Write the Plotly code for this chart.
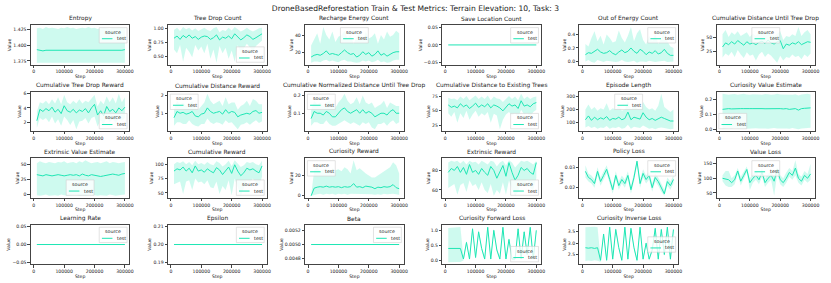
import plotly.graph_objects as go

# ---------------- data ----------------
STEPS = [10000, 20000, 30000, 40000, 50000, 60000, 70000, 80000, 90000, 100000,
         110000, 120000, 130000, 140000, 150000, 160000, 170000, 180000, 190000, 200000,
         210000, 220000, 230000, 240000, 250000, 260000, 270000, 280000, 290000, 300000]
X_TICK_LABELS = ["0", "100000", "200000", "300000"]

TITLES = ["Entropy", "Tree Drop Count", "Recharge Energy Count", "Save Location Count",
          "Out of Energy Count", "Cumulative Distance Until Tree Drop",
          "Cumulative Tree Drop Reward", "Cumulative Distance Reward",
          "Cumulative Normalized Distance Until Tree Drop", "Cumulative Distance to Existing Trees",
          "Episode Length", "Curiosity Value Estimate",
          "Extrinsic Value Estimate", "Cumulative Reward", "Curiosity Reward", "Extrinsic Reward",
          "Policy Loss", "Value Loss",
          "Learning Rate", "Epsilon", "Beta", "Curiosity Forward Loss", "Curiosity Inverse Loss"]

entropy_mean = [1.393, 1.392, 1.391, 1.392, 1.392, 1.391, 1.392, 1.392, 1.392, 1.391,
                1.392, 1.392, 1.391, 1.392, 1.392, 1.392, 1.391, 1.392, 1.392, 1.392,
                1.391, 1.392, 1.392, 1.391, 1.392, 1.392, 1.391, 1.392, 1.392, 1.393]
entropy_hi = [1.427, 1.428, 1.426, 1.429, 1.427, 1.428, 1.427, 1.426, 1.428, 1.427,
              1.429, 1.427, 1.428, 1.426, 1.427, 1.428, 1.427, 1.429, 1.427, 1.428,
              1.426, 1.427, 1.428, 1.427, 1.426, 1.428, 1.427, 1.428, 1.427, 1.428]
entropy_lo = [1.372, 1.372, 1.373, 1.372, 1.372, 1.372, 1.373, 1.372, 1.372, 1.372,
              1.372, 1.373, 1.372, 1.372, 1.372, 1.372, 1.372, 1.373, 1.372, 1.372,
              1.372, 1.372, 1.372, 1.373, 1.372, 1.372, 1.372, 1.372, 1.373, 1.372]

tree_mean = [0.82, 0.86, 0.80, 0.87, 0.83, 0.88, 0.82, 0.85, 0.80, 0.84,
             0.86, 0.85, 0.80, 0.83, 0.88, 0.79, 0.84, 0.82, 0.86, 0.81,
             0.90, 0.85, 0.79, 0.83, 0.88, 0.85, 0.80, 0.83, 0.87, 0.90]
tree_hi = [0.97, 1.01, 0.95, 1.02, 0.98, 1.01, 0.96, 1.00, 0.95, 0.98,
           1.01, 0.97, 0.95, 1.00, 1.02, 0.93, 0.97, 0.95, 1.01, 0.96,
           1.02, 0.98, 0.94, 0.97, 1.01, 0.97, 0.94, 0.97, 1.00, 1.01]
tree_lo = [0.62, 0.55, 0.70, 0.40, 0.65, 0.58, 0.48, 0.70, 0.60, 0.67,
           0.55, 0.72, 0.45, 0.62, 0.38, 0.68, 0.55, 0.65, 0.45, 0.60,
           0.40, 0.70, 0.55, 0.63, 0.72, 0.66, 0.58, 0.68, 0.73, 0.78]

recharge_mean = [15, 17, 18, 17, 19, 22, 18, 19, 18, 17,
                 20, 23, 20, 18, 19, 15, 17, 21, 18, 20,
                 16, 18, 22, 17, 19, 16, 18, 20, 21, 21]
recharge_hi = [28, 35, 42, 30, 49, 40, 35, 44, 32, 38,
               40, 45, 36, 40, 30, 38, 42, 34, 44, 36,
               38, 42, 30, 40, 35, 44, 38, 40, 45, 42]
recharge_lo = [8.5, 10, 10, 9, 11, 12, 10, 11, 10, 9,
               11, 12, 10, 10, 9, 8.5, 9, 11, 10, 11,
               9, 10, 12, 9, 10, 8.5, 9, 11, 12, 12]

save_mean = [0, 0, 0, 0, 0, 0, 0, 0, 0, 0,
             0, 0, 0, 0, 0, 0, 0, 0, 0, 0,
             0, 0, 0, 0, 0, 0, 0, 0, 0, 0]

ooe_mean = [0.10, 0.13, 0.12, 0.15, 0.18, 0.14, 0.12, 0.13, 0.16, 0.12,
            0.10, 0.14, 0.17, 0.13, 0.15, 0.20, 0.15, 0.12, 0.18, 0.15,
            0.10, 0.14, 0.12, 0.16, 0.11, 0.13, 0.18, 0.12, 0.09, 0.09]
ooe_hi = [0.26, 0.22, 0.35, 0.45, 0.30, 0.38, 0.25, 0.40, 0.35, 0.28,
          0.30, 0.46, 0.35, 0.28, 0.38, 0.51, 0.30, 0.42, 0.48, 0.32,
          0.25, 0.38, 0.30, 0.42, 0.26, 0.34, 0.45, 0.30, 0.22, 0.20]
ooe_lo = [0.00, 0.02, -0.01, -0.02, 0.02, 0.00, -0.01, 0.01, 0.00, 0.00,
          -0.01, 0.00, 0.02, 0.00, -0.01, 0.00, 0.01, -0.02, 0.00, 0.00,
          -0.01, 0.01, 0.00, -0.01, 0.00, 0.00, 0.01, -0.01, 0.00, 0.00]

cdu_mean = [33, 40, 37, 42, 38, 44, 40, 36, 42, 38,
            40, 37, 41, 43, 39, 45, 40, 38, 42, 44,
            30, 38, 36, 40, 38, 42, 37, 40, 42, 41]
cdu_hi = [55, 62, 50, 58, 54, 60, 52, 55, 58, 50,
          56, 52, 58, 60, 55, 58, 54, 52, 56, 60,
          45, 52, 50, 55, 52, 67, 52, 58, 62, 55]
cdu_lo = [15, 22, 18, 25, 16, 28, 20, 14, 24, 18,
          20, 10, 20, 25, 16, 22, 18, 12, 6, 18,
          10, 16, 14, 20, 16, 18, 12, 20, 16, 22]

ctdr_mean = [2.2, 3.8, 3.5, 3.9, 3.6, 4.1, 3.4, 3.8, 3.2, 4.3,
             3.6, 3.4, 3.8, 3.3, 3.7, 3.5, 3.9, 3.3, 4.0, 4.5,
             3.0, 3.6, 2.9, 4.2, 3.5, 3.8, 3.3, 4.0, 3.6, 4.1]
ctdr_hi = [3.5, 4.8, 4.6, 5.0, 4.5, 5.2, 4.6, 5.5, 4.5, 5.8,
           4.8, 4.5, 5.0, 4.6, 5.2, 4.6, 5.0, 4.8, 5.3, 5.8,
           4.2, 5.0, 4.5, 5.6, 4.8, 5.5, 4.6, 6.0, 4.8, 5.5]
ctdr_lo = [1.2, 2.6, 2.3, 2.6, 2.0, 2.8, 1.8, 2.4, 1.5, 2.8,
           2.3, 1.6, 2.3, 1.0, 2.1, 2.2, 2.6, 1.8, 2.6, 2.8,
           1.4, 2.3, 1.6, 2.8, 2.0, 2.4, 1.8, 2.6, 2.2, 2.6]

cdr_mean = [0.75, 1.10, 1.00, 1.05, 0.95, 1.00, 1.10, 0.85, 0.80, 0.95,
            1.00, 1.30, 1.10, 1.00, 1.05, 1.10, 0.95, 1.20, 1.00, 1.10,
            1.05, 0.80, 0.90, 0.95, 1.00, 0.95, 1.10, 1.15, 1.00, 1.05]
cdr_hi = [1.20, 1.70, 1.50, 1.60, 1.40, 1.50, 1.70, 1.30, 1.20, 1.40,
          1.60, 2.10, 1.70, 1.50, 1.60, 1.70, 1.40, 1.90, 1.50, 1.60,
          1.60, 1.20, 1.40, 1.50, 1.70, 1.40, 1.80, 1.70, 1.50, 1.50]
cdr_lo = [0.30, 0.50, 0.50, 0.40, 0.40, 0.60, 0.40, 0.30, 0.25, 0.40,
          0.40, 0.70, 0.50, 0.40, 0.50, 0.45, 0.35, 0.60, 0.45, 0.50,
          0.30, 0.10, 0.35, 0.40, 0.50, 0.35, 0.50, 0.60, 0.45, 0.55]

cnd_mean = [0.07, 0.11, 0.10, 0.10, 0.09, 0.11, 0.10, 0.08, 0.08, 0.10,
            0.12, 0.13, 0.11, 0.10, 0.11, 0.12, 0.10, 0.12, 0.10, 0.11,
            0.10, 0.08, 0.09, 0.10, 0.10, 0.09, 0.11, 0.12, 0.10, 0.10]
cnd_hi = [0.12, 0.17, 0.15, 0.16, 0.14, 0.16, 0.17, 0.14, 0.13, 0.16,
          0.18, 0.21, 0.17, 0.15, 0.16, 0.19, 0.15, 0.20, 0.16, 0.15,
          0.16, 0.13, 0.14, 0.15, 0.17, 0.13, 0.16, 0.15, 0.14, 0.14]
cnd_lo = [0.03, 0.05, 0.05, 0.04, 0.04, 0.06, 0.04, 0.03, 0.03, 0.04,
          0.05, 0.06, 0.05, 0.04, 0.05, 0.04, 0.03, 0.05, 0.04, 0.05,
          0.02, 0.01, 0.04, 0.04, 0.05, 0.03, 0.05, 0.06, 0.04, 0.05]

cde_mean = [60, 56, 58, 55, 62, 57, 60, 54, 58, 63,
            56, 60, 57, 62, 55, 60, 58, 55, 50, 56,
            62, 58, 60, 54, 67, 58, 60, 57, 62, 64]
cde_hi = [72, 70, 71, 68, 74, 70, 75, 68, 72, 76,
          70, 74, 70, 76, 68, 74, 71, 70, 65, 70,
          75, 70, 74, 68, 79, 70, 74, 70, 73, 74]
cde_lo = [46, 40, 48, 30, 46, 38, 50, 35, 44, 50,
          40, 46, 42, 48, 30, 45, 42, 19, 35, 44,
          48, 42, 46, 38, 52, 44, 46, 40, 48, 52]

epl_mean = [120, 150, 115, 140, 120, 135, 125, 145, 115, 130,
            125, 140, 120, 130, 180, 120, 140, 130, 125, 175,
            140, 120, 130, 115, 125, 140, 130, 120, 110, 110]
epl_hi = [200, 240, 200, 220, 190, 210, 200, 250, 190, 210,
          200, 230, 190, 200, 270, 200, 230, 210, 200, 260,
          220, 200, 210, 190, 230, 325, 220, 200, 180, 200]
epl_lo = [60, 70, 55, 65, 50, 60, 55, 70, 50, 60,
          55, 65, 50, 55, 80, 50, 65, 60, 55, 75,
          60, 50, 55, 45, 55, 60, 55, 50, 45, 50]

cve_mean = [0.135, 0.140, 0.140, 0.138, 0.140, 0.142, 0.140, 0.140, 0.138, 0.140,
            0.140, 0.141, 0.140, 0.140, 0.139, 0.140, 0.140, 0.140, 0.142, 0.140,
            0.138, 0.140, 0.135, 0.140, 0.140, 0.130, 0.140, 0.142, 0.145, 0.145]
cve_hi = [0.240, 0.235, 0.232, 0.236, 0.238, 0.233, 0.236, 0.239, 0.234, 0.232,
          0.236, 0.237, 0.235, 0.233, 0.238, 0.236, 0.232, 0.235, 0.239, 0.234,
          0.233, 0.237, 0.235, 0.232, 0.236, 0.228, 0.235, 0.238, 0.239, 0.234]
cve_lo = [0.002, 0.008, 0.010, 0.006, 0.012, 0.008, 0.010, 0.007, 0.005, 0.008,
          0.010, 0.009, 0.007, 0.010, 0.008, 0.005, 0.008, 0.010, 0.008, 0.005,
          0.007, 0.008, 0.005, 0.010, 0.008, 0.003, 0.008, 0.010, 0.008, 0.012]

eve_mean = [33, 32, 31, 33, 32, 31, 32, 33, 32, 31,
            32, 33, 32, 33, 31, 34, 32, 31, 33, 32,
            31, 30, 31, 32, 33, 34, 33, 32, 34, 35]
eve_hi = [52, 55, 53, 52, 54, 53, 52, 54, 53, 55,
          52, 53, 54, 52, 55, 53, 57, 54, 52, 53,
          54, 52, 53, 55, 52, 54, 53, 52, 53, 54]
eve_lo = [-1, -2, -1, 0, -2, -1, -1, -2, 0, -1,
          -2, -1, -1, 0, -2, -1, -2, -1, 0, -1,
          -2, -1, -1, -2, 0, -1, -2, -1, -1, 0]

cr_mean = [88, 92, 90, 95, 88, 93, 85, 97, 88, 90,
           86, 92, 88, 85, 94, 90, 82, 88, 95, 84,
           99, 88, 80, 85, 93, 90, 92, 88, 85, 97]
cr_hi = [100, 104, 102, 105, 100, 104, 98, 106, 100, 102,
         99, 104, 100, 98, 105, 102, 96, 100, 106, 97,
         107, 100, 95, 98, 104, 102, 104, 100, 98, 106]
cr_lo = [65, 68, 70, 48, 70, 72, 55, 75, 68, 70,
         65, 72, 60, 58, 70, 48, 62, 55, 72, 46,
         75, 60, 45, 58, 72, 68, 75, 66, 62, 78]

cur_mean = [0, 7.5, 8.5, 9, 8.5, 9.5, 8.5, 9, 8.5, 9,
            8, 9, 8.5, 9, 12, 8.5, 9, 8, 9.5, 9,
            8.5, 7, 8.5, 8, 9, 8.5, 9, 11, 8, 7]
cur_hi = [0, 25, 28, 24, 26, 27, 22, 27, 25, 26,
          24, 28, 26, 22, 35, 25, 27, 24, 22, 20,
          18, 18, 20, 22, 24, 26, 28, 33, 30, 22]
cur_lo = [0, 1, 1.5, 2, 1, 2, 1.5, 2, 1, 2,
          1.5, 2, 1, 2, 2, 1.5, 2, 1.5, 2, 2,
          1.5, 1, 1.5, 1, 2, 1.5, 2, 2, 1.5, 1]

er_mean = [78, 82, 80, 84, 78, 83, 76, 86, 78, 80,
           76, 82, 78, 75, 84, 80, 72, 78, 85, 74,
           88, 78, 70, 75, 83, 80, 82, 78, 76, 88]
er_hi = [88, 90, 89, 90, 87, 90, 86, 90, 88, 89,
         86, 90, 88, 86, 90, 89, 84, 88, 90, 85,
         90.5, 88, 83, 86, 90, 89, 90, 88, 86, 90]
er_lo = [62, 64, 66, 55, 65, 67, 58, 70, 64, 66,
         60, 68, 60, 57, 66, 54, 60, 56, 68, 55,
         70, 60, 54, 58, 68, 64, 70, 62, 60, 72]

pl_mean = [0.028, 0.025, 0.024, 0.022, 0.028, 0.023, 0.026, 0.029, 0.024, 0.019,
           0.026, 0.021, 0.024, 0.022, 0.026, 0.019, 0.025, 0.033, 0.022, 0.027,
           0.024, 0.026, 0.020, 0.025, 0.023, 0.020, 0.017, 0.023, 0.021, 0.024]
pl_hi = [0.031, 0.027, 0.026, 0.024, 0.030, 0.025, 0.028, 0.031, 0.026, 0.021,
         0.028, 0.023, 0.026, 0.024, 0.028, 0.021, 0.027, 0.0335, 0.024, 0.029,
         0.026, 0.028, 0.022, 0.027, 0.025, 0.022, 0.019, 0.025, 0.023, 0.026]
pl_lo = [0.025, 0.023, 0.022, 0.020, 0.026, 0.021, 0.024, 0.027, 0.022, 0.017,
         0.024, 0.019, 0.022, 0.020, 0.024, 0.017, 0.023, 0.031, 0.020, 0.025,
         0.022, 0.024, 0.018, 0.023, 0.021, 0.018, 0.016, 0.021, 0.019, 0.022]

vl_mean = [100, 98, 95, 85, 95, 125, 90, 110, 130, 85,
           100, 110, 95, 120, 85, 100, 110, 90, 130, 95,
           85, 100, 120, 110, 135, 100, 90, 110, 100, 115]
vl_hi = [110, 125, 125, 100, 110, 135, 105, 125, 140, 100,
         115, 125, 110, 135, 100, 115, 125, 105, 140, 110,
         100, 120, 135, 125, 162, 115, 105, 125, 115, 150]
vl_lo = [90, 75, 70, 70, 80, 115, 75, 95, 120, 60,
         85, 95, 80, 105, 70, 85, 95, 40, 115, 80,
         70, 85, 105, 95, 110, 85, 75, 95, 85, 95]

lr_mean = [0, 0, 0, 0, 0, 0, 0, 0, 0, 0,
           0, 0, 0, 0, 0, 0, 0, 0, 0, 0,
           0, 0, 0, 0, 0, 0, 0, 0, 0, 0]
eps_mean = [0.2, 0.2, 0.2, 0.2, 0.2, 0.2, 0.2, 0.2, 0.2, 0.2,
            0.2, 0.2, 0.2, 0.2, 0.2, 0.2, 0.2, 0.2, 0.2, 0.2,
            0.2, 0.2, 0.2, 0.2, 0.2, 0.2, 0.2, 0.2, 0.2, 0.2]
beta_mean = [0.005, 0.005, 0.005, 0.005, 0.005, 0.005, 0.005, 0.005, 0.005, 0.005,
             0.005, 0.005, 0.005, 0.005, 0.005, 0.005, 0.005, 0.005, 0.005, 0.005,
             0.005, 0.005, 0.005, 0.005, 0.005, 0.005, 0.005, 0.005, 0.005, 0.005]

cfl_mean = [0.40, 0.40, 0.41, 0.40, 0.40, 0.05, 0.60, 0.05, 1.05, 0.10,
            0.95, 0.40, 0.05, 1.10, 0.05, 1.00, 0.35, 0.05, 1.10, 0.05,
            0.70, 0.05, 0.05, 1.05, 0.05, 0.95, 0.20, 1.10, 0.05, 1.00]
cfl_hi = [1.08, 1.09, 1.10, 1.10, 1.11, 0.10, 0.66, 0.10, 1.11, 0.16,
          1.02, 0.46, 0.10, 1.12, 0.10, 1.06, 0.41, 0.10, 1.12, 0.10,
          0.76, 0.10, 0.10, 1.11, 0.10, 1.01, 0.26, 1.12, 0.10, 1.06]
cfl_lo = [-0.06, -0.05, -0.06, -0.05, -0.05, 0.00, 0.54, 0.00, 0.99, 0.04,
          0.88, 0.34, 0.00, 1.04, 0.00, 0.94, 0.29, 0.00, 1.04, 0.00,
          0.64, 0.00, 0.00, 0.99, 0.00, 0.89, 0.14, 1.04, 0.00, 0.94]

cil_mean = [2.80, 2.78, 2.80, 2.77, 2.80, 2.25, 3.40, 2.25, 3.70, 2.30,
            3.60, 2.80, 2.25, 3.70, 2.30, 3.65, 2.80, 2.25, 3.70, 2.30,
            3.00, 2.30, 2.70, 3.65, 2.30, 3.60, 2.50, 3.70, 2.30, 3.60]
cil_hi = [3.70, 3.71, 3.70, 3.72, 3.70, 2.32, 3.47, 2.32, 3.72, 2.37,
          3.67, 2.87, 2.32, 3.72, 2.37, 3.71, 2.87, 2.32, 3.72, 2.37,
          3.07, 2.37, 2.77, 3.71, 2.37, 3.67, 2.57, 3.72, 2.37, 3.67]
cil_lo = [2.22, 2.24, 2.22, 2.25, 2.23, 2.18, 3.33, 2.18, 3.63, 2.23,
          3.53, 2.73, 2.18, 3.63, 2.23, 3.58, 2.73, 2.16, 3.63, 2.23,
          2.93, 2.23, 2.63, 3.58, 2.23, 3.53, 2.43, 3.63, 2.23, 3.53]

SERIES = [
    (entropy_mean, entropy_lo, entropy_hi),
    (tree_mean, tree_lo, tree_hi),
    (recharge_mean, recharge_lo, recharge_hi),
    (save_mean, save_mean, save_mean),
    (ooe_mean, ooe_lo, ooe_hi),
    (cdu_mean, cdu_lo, cdu_hi),
    (ctdr_mean, ctdr_lo, ctdr_hi),
    (cdr_mean, cdr_lo, cdr_hi),
    (cnd_mean, cnd_lo, cnd_hi),
    (cde_mean, cde_lo, cde_hi),
    (epl_mean, epl_lo, epl_hi),
    (cve_mean, cve_lo, cve_hi),
    (eve_mean, eve_lo, eve_hi),
    (cr_mean, cr_lo, cr_hi),
    (cur_mean, cur_lo, cur_hi),
    (er_mean, er_lo, er_hi),
    (pl_mean, pl_lo, pl_hi),
    (vl_mean, vl_lo, vl_hi),
    (lr_mean, lr_mean, lr_mean),
    (eps_mean, eps_mean, eps_mean),
    (beta_mean, beta_mean, beta_mean),
    (cfl_mean, cfl_lo, cfl_hi),
    (cil_mean, cil_lo, cil_hi),
]

Y_TICK_LABELS = [
    ["1.375", "1.400", "1.425"], ["0.50", "0.75", "1.00"], ["20", "40"],
    ["\u22120.05", "0.00", "0.05"], ["0.0", "0.2", "0.4"], ["25", "50"],
    ["2", "4", "6"], ["1", "2"], ["0.1", "0.2"], ["25", "50", "75"],
    ["100", "200", "300"], ["0.0", "0.1", "0.2"],
    ["0", "25", "50"], ["50", "75", "100"], ["0", "20"], ["60", "80"],
    ["0.02", "0.03"], ["50", "100", "150"],
    ["\u22120.05", "0.00", "0.05"], ["0.19", "0.20", "0.21"],
    ["0.0048", "0.0050", "0.0052"], ["0.0", "0.5", "1.0"], ["2.5", "3.0", "3.5"],
]

LEGEND_LOC = [
    "upper right", "lower right", "upper center", "upper right", "upper right", "upper center",
    "lower right", "upper left", "upper left", "lower right", "upper center", "lower left",
    "lower center", "lower right", "upper left", "lower right", "upper right", "upper center",
    "upper right", "upper right", "upper right", "lower right", "center right",
]

for m, lo, hi in SERIES:
    assert len(m) == len(lo) == len(hi) == len(STEPS)

# ---------------- style / layout ----------------
W, H = 831, 283
FONT = "DejaVu Sans"
LINE_COLOR = "#1EE6B4"
FILL_COLOR = "rgba(30, 230, 180, 0.22)"
AX_COLOR = "#444444"
TEXT_COLOR = "#222222"
TICK_SIZE = 4.6
SUBTITLE_SIZE = 5.9
LEGEND_SIZE = 4.8

COL_LEFT0, COL_PITCH, AX_W = 31.0, 137.8, 99.0
ROW_TOP0, ROW_PITCH, AX_H = 24.5, 67.0, 39.5
X_RANGE = [-9750, 314750]
LEG_W, LEG_H, LEG_PAD = 28.0, 15.5, 2.3


def px_x(v):
    return v / W


def px_y(v):
    return 1 - v / H


def y_range(values):
    lo, hi = min(values), max(values)
    if hi - lo < 1e-12:
        if lo == 0:
            lo, hi = -0.05, 0.05
        else:
            d = abs(lo) * 0.05
            lo, hi = lo - d, hi + d
    pad = (hi - lo) * 0.05
    return [lo - pad, hi + pad]


def tick_value(s):
    return float(s.replace("\u2212", "-"))


def legend_origin(left, top, loc):
    if loc.endswith("right"):
        lx = left + AX_W - LEG_PAD - LEG_W
    elif loc.endswith("left"):
        lx = left + LEG_PAD
    else:
        lx = left + (AX_W - LEG_W) / 2
    if loc.startswith("upper"):
        ly = top + LEG_PAD
    elif loc.startswith("lower"):
        ly = top + AX_H - LEG_PAD - LEG_H
    else:
        ly = top + (AX_H - LEG_H) / 2
    return lx, ly


fig = go.Figure()
layout = {}
annotations = []
shapes = []

for i, (title, (mean, lo, hi)) in enumerate(zip(TITLES, SERIES)):
    r, c = divmod(i, 6)
    left = COL_LEFT0 + c * COL_PITCH
    top = ROW_TOP0 + r * ROW_PITCH
    suffix = "" if i == 0 else str(i + 1)
    xref, yref = "x" + suffix, "y" + suffix

    fig.add_trace(go.Scatter(x=STEPS, y=hi, mode="lines", line=dict(width=0, color=LINE_COLOR),
                             hoverinfo="skip", showlegend=False, xaxis=xref, yaxis=yref))
    fig.add_trace(go.Scatter(x=STEPS, y=lo, mode="lines", line=dict(width=0, color=LINE_COLOR),
                             fill="tonexty", fillcolor=FILL_COLOR, hoverinfo="skip",
                             showlegend=False, xaxis=xref, yaxis=yref))
    fig.add_trace(go.Scatter(x=STEPS, y=mean, mode="lines", name="test",
                             line=dict(width=1, color=LINE_COLOR), showlegend=False,
                             xaxis=xref, yaxis=yref))

    common = dict(showline=True, mirror=True, linecolor=AX_COLOR, linewidth=0.8,
                  ticks="outside", ticklen=2.5, tickwidth=0.7, tickcolor=AX_COLOR,
                  tickfont=dict(size=TICK_SIZE, family=FONT, color=TEXT_COLOR),
                  showgrid=False, zeroline=False, fixedrange=True)
    layout["xaxis" + suffix] = dict(
        domain=[px_x(left), px_x(left + AX_W)], anchor=yref, range=X_RANGE,
        tickvals=[tick_value(t) for t in X_TICK_LABELS], ticktext=X_TICK_LABELS,
        title=dict(text="Step", font=dict(size=TICK_SIZE, family=FONT, color=TEXT_COLOR), standoff=1),
        **common)
    yt = Y_TICK_LABELS[i]
    layout["yaxis" + suffix] = dict(
        domain=[px_y(top + AX_H), px_y(top)], anchor=xref,
        range=y_range(list(lo) + list(hi) + list(mean)),
        tickvals=[tick_value(t) for t in yt], ticktext=yt,
        title=dict(text="Value", font=dict(size=TICK_SIZE, family=FONT, color=TEXT_COLOR), standoff=1),
        **common)

    annotations.append(dict(text=title, xref="paper", yref="paper",
                            x=px_x(left + AX_W / 2), y=px_y(top - 1.0),
                            xanchor="center", yanchor="bottom", showarrow=False,
                            font=dict(size=SUBTITLE_SIZE, family=FONT, color=TEXT_COLOR)))

    # legend ("source" / test)
    lx, ly = legend_origin(left, top, LEGEND_LOC[i])
    shapes.append(dict(type="rect", xref="paper", yref="paper", layer="above",
                       x0=px_x(lx), x1=px_x(lx + LEG_W), y0=px_y(ly + LEG_H), y1=px_y(ly),
                       line=dict(color="#d0d0d0", width=0.6), fillcolor="rgba(255,255,255,0.8)"))
    shapes.append(dict(type="line", xref="paper", yref="paper", layer="above",
                       x0=px_x(lx + 2.7), x1=px_x(lx + 13.3),
                       y0=px_y(ly + 11.2), y1=px_y(ly + 11.2),
                       line=dict(color=LINE_COLOR, width=1)))
    annotations.append(dict(text="source", xref="paper", yref="paper",
                            x=px_x(lx + LEG_W / 2), y=px_y(ly + 4.6), xanchor="center",
                            yanchor="middle", showarrow=False,
                            font=dict(size=LEGEND_SIZE, family=FONT, color=TEXT_COLOR)))
    annotations.append(dict(text="test", xref="paper", yref="paper",
                            x=px_x(lx + 15.8), y=px_y(ly + 11.2), xanchor="left",
                            yanchor="middle", showarrow=False,
                            font=dict(size=LEGEND_SIZE, family=FONT, color=TEXT_COLOR)))

fig.update_layout(
    width=W, height=H, margin=dict(l=0, r=0, t=0, b=0),
    paper_bgcolor="white", plot_bgcolor="white", showlegend=False,
    font=dict(family=FONT, color=TEXT_COLOR),
    title=dict(text="DroneBasedReforestation Train & Test Metrics: Terrain Elevation: 10, Task: 3",
               x=0.5, xanchor="center", y=px_y(8.5), yanchor="middle",
               font=dict(size=7.6, family=FONT, color=TEXT_COLOR)),
    annotations=annotations, shapes=shapes,
    **layout,
)

fig.write_html("out.html", config={"displayModeBar": False},
               post_script="document.body.style.margin='0';document.body.style.overflow='hidden';")
